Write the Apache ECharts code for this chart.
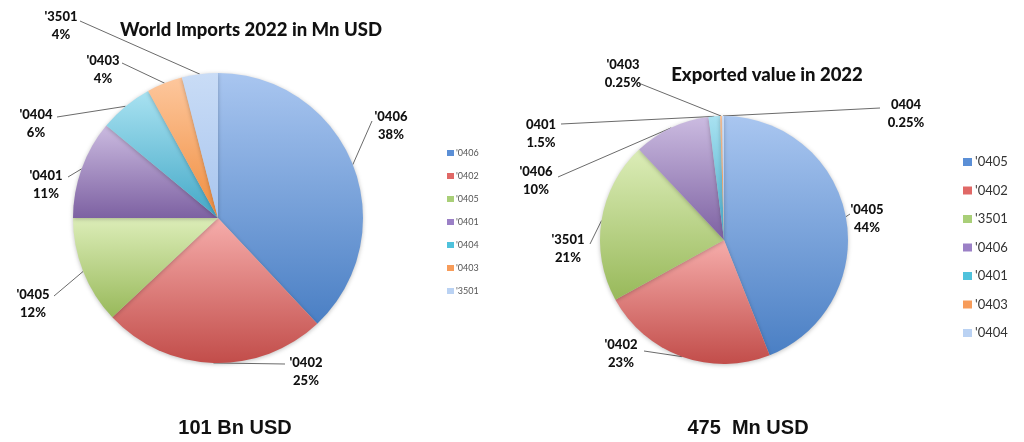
<!DOCTYPE html>
<html>
<head>
<meta charset="utf-8">
<script src="https://cdn.jsdelivr.net/npm/echarts@6/dist/echarts.min.js"></script>
<style>html,body{margin:0;padding:0;background:#fff}#c{width:1024px;height:442px}</style>
</head>
<body>
<div id="c"></div>
<script>
// ---- data ----
const importCategories = ["'0406", "'0402", "'0405", "'0401", "'0404", "'0403", "'3501"];
const importShares = [38, 25, 12, 11, 6, 4, 4];
const importTotal = "101 Bn USD";

const exportCategories = ["'0405", "'0402", "'3501", "'0406", "'0401", "'0403", "'0404"];
const exportLabelNames = ["'0405", "'0402", "'3501", "'0406", "0401", "'0403", "0404"];
const exportShares = [44, 23, 21, 10, 1.5, 0.25, 0.25];
const exportTotal = "475  Mn USD";

// ---- styling ----
const FONT = 'Lato, "Open Sans", sans-serif';
const FONT2 = '"Liberation Sans", Arial, sans-serif';
const gradPairs = [
  ['#a9c6f0', '#4a7fc4'],
  ['#f6adab', '#c24d4a'],
  ['#dcedb8', '#98b95a'],
  ['#cbbbe0', '#7d61a2'],
  ['#a9e2f1', '#43a8c7'],
  ['#fdc79d', '#f08d3e'],
  ['#c9dcf6', '#a8c5ee']
];
const legendColors = ['#5b8fd6', '#e06866', '#a9cf78', '#9b80c6', '#4fc2dc', '#f79c5a', '#bad2f3'];
function grad(i) {
  return new echarts.graphic.LinearGradient(0, 0, 0, 1, [
    { offset: 0, color: gradPairs[i][0] },
    { offset: 1, color: gradPairs[i][1] }
  ]);
}
// label layout: [centerX, centerY, lineEndX, lineEndY]
const importLabelPos = [
  [391, 126, 372, 121],
  [306, 372, 285, 364],
  [33, 304, 54, 296],
  [46, 185, 68, 177],
  [36, 124, 57, 117],
  [103, 70, 122, 63],
  [61, 26, 80, 21]
];
const exportLabelPos = [
  [867, 219, 850, 214],
  [621, 354, 644, 351],
  [568, 249, 590, 244],
  [536, 181, 558, 177],
  [541, 134, 561, 124],
  [623, 74, 641, 84],
  [906, 114, 880, 108]
];

function makeLayout(pos) {
  return function (params) {
    const p = pos[params.dataIndex];
    const pts = params.labelLinePoints;
    const out = { x: p[0], y: p[1], align: 'center', verticalAlign: 'middle' };
    if (pts && pts.length) {
      out.labelLinePoints = [pts[0], [p[2], p[3]], [p[2], p[3]]];
    }
    return out;
  };
}

const labelStyle = {
  show: true,
  position: 'outside',
  fontFamily: FONT,
  fontSize: 13,
  fontWeight: 900,
  color: '#111',
  lineHeight: 18,
  align: 'center'
};

const chart = echarts.init(document.getElementById('c'), null, { renderer: 'canvas' });
chart.setOption({
  backgroundColor: '#ffffff',
  animation: false,
  title: [
    { text: 'World Imports 2022 in Mn USD', left: 246, top: 16, textAlign: 'center',
      textStyle: { fontFamily: FONT, fontSize: 18.5, fontWeight: 900, color: '#111' } },
    { text: 'Exported value in 2022', left: 762, top: 61, textAlign: 'center',
      textStyle: { fontFamily: FONT, fontSize: 18.5, fontWeight: 900, color: '#111' } },
    { text: importTotal, left: 230, top: 413, textAlign: 'center',
      textStyle: { fontFamily: FONT2, fontSize: 20, fontWeight: 'bold', color: '#111' } },
    { text: exportTotal, left: 743, top: 413, textAlign: 'center',
      textStyle: { fontFamily: FONT2, fontSize: 20, fontWeight: 'bold', color: '#111' } }
  ],
  legend: [
    {
      orient: 'vertical', left: 442, top: 142, itemGap: 11,
      itemWidth: 7, itemHeight: 6, icon: 'rect', selectedMode: false,
      data: importCategories.map((n, i) => ({ name: n, itemStyle: { color: legendColors[i] } })),
      textStyle: { fontFamily: FONT, fontSize: 9, color: '#555', lineHeight: 12, padding: [0, 0, 0, -3] },
      seriesIndex: 0
    },
    {
      orient: 'vertical', left: 958, top: 149, itemGap: 12.5,
      itemWidth: 9, itemHeight: 8, icon: 'rect', selectedMode: false,
      data: exportCategories.map((n, i) => ({ name: n + ' ', itemStyle: { color: legendColors[i] } })),
      textStyle: { fontFamily: FONT, fontSize: 13, color: '#333', lineHeight: 16, padding: [0, 0, 0, -2] }
    }
  ],
  series: [
    {
      type: 'pie',
      center: [218, 218],
      radius: 145,
      startAngle: 90,
      clockwise: true,
      avoidLabelOverlap: false,
      itemStyle: { borderWidth: 0, shadowBlur: 4, shadowColor: 'rgba(0,0,0,0.25)', shadowOffsetY: 1 },
      label: Object.assign({}, labelStyle, {
        formatter: (p) => p.name + '\n' + importShares[p.dataIndex] + '%'
      }),
      labelLine: { show: true, length: 10, length2: 10, lineStyle: { color: '#6b6b6b', width: 1 } },
      labelLayout: makeLayout(importLabelPos),
      emphasis: { disabled: true },
      data: importCategories.map((n, i) => ({ name: n, value: importShares[i], itemStyle: { color: grad(i) } }))
    },
    {
      type: 'pie',
      center: [724, 240],
      radius: 124,
      startAngle: 90,
      clockwise: true,
      avoidLabelOverlap: false,
      itemStyle: { borderWidth: 0, shadowBlur: 4, shadowColor: 'rgba(0,0,0,0.25)', shadowOffsetY: 1 },
      label: Object.assign({}, labelStyle, {
        formatter: (p) => exportLabelNames[p.dataIndex] + '\n' + exportShares[p.dataIndex] + '%'
      }),
      labelLine: { show: true, length: 10, length2: 10, lineStyle: { color: '#6b6b6b', width: 1 } },
      labelLayout: makeLayout(exportLabelPos),
      emphasis: { disabled: true },
      data: exportCategories.map((n, i) => ({ name: n + ' ', value: exportShares[i], itemStyle: { color: grad(i) } }))
    }
  ]
});
</script>
</body>
</html>
